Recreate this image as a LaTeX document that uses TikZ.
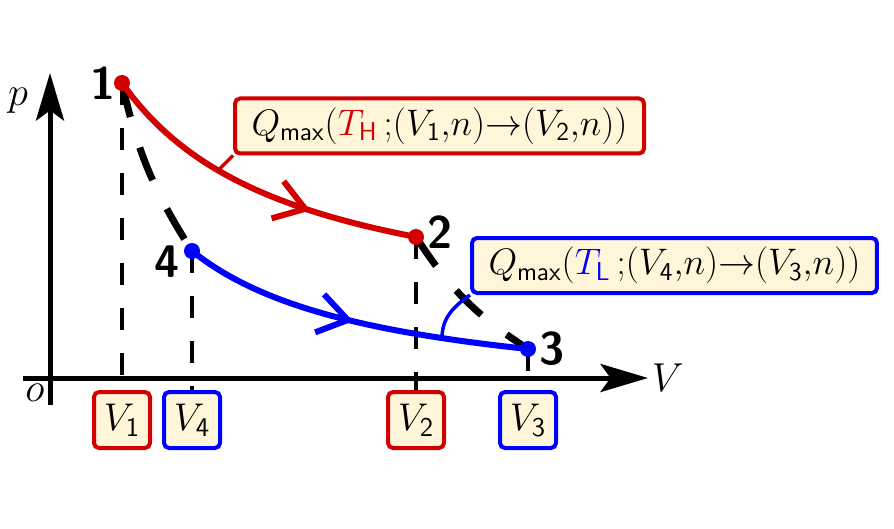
\RequirePackage{fix-cm}
\documentclass[tikz,border=0pt]{standalone}
\usepackage{amsmath}
\usepackage{xcolor}
\usepackage{tikz}
\usetikzlibrary{arrows.meta,positioning,decorations.markings}
\definecolor{hot}{RGB}{210,0,0}
\definecolor{cold}{RGB}{0,0,255}
\definecolor{paper}{RGB}{255,246,217}

\begin{document}
\begin{tikzpicture}[
  font=\fontsize{21}{25}\selectfont,
  axis/.style={line width=0.1cm, -{Stealth[length=0.95cm, width=0.56cm, inset=0.2cm]}},
  guide/.style={line width=0.09cm, dash pattern=on 0.44cm off 0.46cm},
  adiabat/.style={line width=0.14cm, dash pattern=on 0.7cm off 0.64cm},
  hotline/.style={hot, line width=0.12cm, postaction={decorate}, decoration={markings, mark=at position 0.68 with {\arrow{Straight Barb[length=0.58cm, width=0.78cm]}}}},
  coldline/.style={cold, line width=0.12cm, postaction={decorate}, decoration={markings, mark=at position 0.5 with {\arrow{Straight Barb[length=0.58cm, width=0.78cm]}}}},
  tag/.style={draw, line width=0.08cm, fill=paper, rounded corners=0.1cm, minimum width=1.12cm, minimum height=1.12cm, inner sep=0pt, font=\fontsize{22}{26}\selectfont},
  note/.style={draw, line width=0.08cm, fill=paper, rounded corners=0.1cm, minimum height=1.1cm, inner xsep=0.33cm},
  num/.style={font=\fontsize{26}{30}\selectfont\sffamily\bfseries, inner sep=0pt},
  axislabel/.style={font=\fontsize{23}{27}\selectfont, inner sep=0pt}
]
\useasboundingbox (0,0) rectangle (17.88,10.56);
\coordinate [] (O) at (1,3);
\coordinate [] (P1) at (2.44,8.90);
\coordinate [] (P2) at (8.32,5.82);
\coordinate [] (P3) at (10.56,3.58);
\coordinate [] (P4) at (3.84,5.54);
\coordinate [] (Vstart) at (0.46,3);
\coordinate [] (Vend) at (12.96,3);
\coordinate [] (pstart) at (1,2.46);
\coordinate [] (pend) at (1,9.1);
\coordinate [] (X1) at (P1 |- O);
\coordinate [] (X2) at (P2 |- O);
\coordinate [] (X3) at (P3 |- O);
\coordinate [] (X4) at (P4 |- O);
\node[tag, draw=hot, below=0.24cm of X1] (V1) {$V_{\mathsf{1}}$};
\node[tag, draw=hot, below=0.24cm of X2] (V2) {$V_{\mathsf{2}}$};
\node[tag, draw=cold, below=0.24cm of X3] (V3) {$V_{\mathsf{3}}$};
\node[tag, draw=cold, below=0.24cm of X4] (V4) {$V_{\mathsf{4}}$};
\draw[guide] (P1) -- (V1);
\draw[guide] (P2) -- (V2);
\draw[guide] (P3) -- (V3);
\draw[guide] (P4) -- (V4);
\draw[adiabat] (P1) to[bend right=10] (P4);
\draw[adiabat] (P2) to[bend right=12] (P3);
\draw[axis] (Vstart) -- (Vend);
\draw[axis] (pstart) -- (pend);
\draw[hotline] plot[domain=2.44:8.32, samples=60] (\x, {4.02+16.79/(\x+1)});
\draw[coldline] plot[domain=3.84:10.56, samples=60] (\x, {2.46+11.83/\x});
\fill[hot] (P1) circle (0.16);
\fill[hot] (P2) circle (0.16);
\fill[cold] (P3) circle (0.16);
\fill[cold] (P4) circle (0.16);
\node[num, left=0.12cm of P1] (n1) {1};
\node[num, right=0.22cm of P2, yshift=0.1cm] (n2) {2};
\node[num, right=0.22cm of P3] (n3) {3};
\node[num, left=0.24cm of P4, yshift=-0.22cm] (n4) {4};
\node[axislabel] (plabel) at (0.36,8.54) {$p$};
\node[axislabel, right=0.07cm of Vend] (Vlabel) {$V$};
\node[axislabel] (olabel) at (0.7,2.7) {$o$};
\node[note, draw=hot, anchor=west] (Qhot) at (4.66,8.04) {$Q_{\mathsf{max}}(\textcolor{hot}{T_{\mathsf{H}}}\,{;}(V_{\mathsf{1}}{,}n){\to}(V_{\mathsf{2}}{,}n))$};
\node[note, draw=cold, anchor=west] (Qcold) at (9.4,5.25) {$Q_{\mathsf{max}}(\textcolor{cold}{T_{\mathsf{L}}}\,{;}(V_{\mathsf{4}}{,}n){\to}(V_{\mathsf{3}}{,}n))$};
\coordinate [] (hotpt) at (4.36,7.15);
\coordinate [] (coldpt) at (8.84,3.80);
\draw[hot, line width=0.07cm] (Qhot.south west) -- (hotpt);
\draw[cold, line width=0.07cm] (Qcold.south west) to[out=215, in=90] (coldpt);
\end{tikzpicture}
\end{document}
